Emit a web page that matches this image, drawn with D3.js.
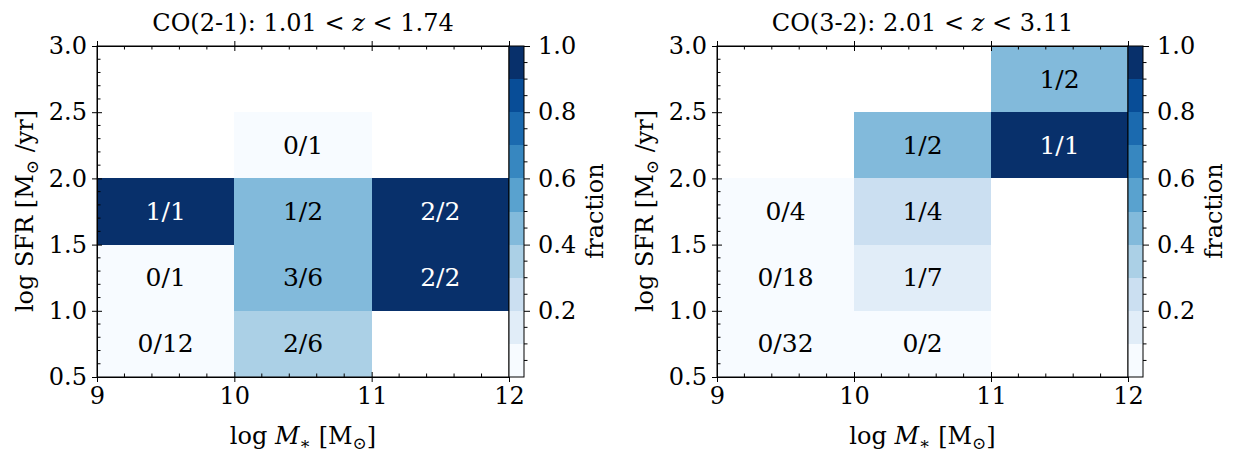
<!DOCTYPE html>
<html>
<head>
<meta charset="utf-8">
<script src="https://cdn.jsdelivr.net/npm/d3@7"></script>
<style>
  body { margin: 0; background: #fff; }
  svg text { font-family: "DejaVu Serif", serif; fill: #000; }
</style>
</head>
<body>
<svg id="chart" width="1242" height="463"></svg>
<script>
// bin edges
var massEdges = [9, 10, 11, 12];
var sfrEdges = [0.5, 1.0, 1.5, 2.0, 2.5, 3.0];
var massTicks = [9, 10, 11, 12];
var sfrTicks = [0.5, 1.0, 1.5, 2.0, 2.5, 3.0];
var fracTicks = [0.2, 0.4, 0.6, 0.8, 1.0];

// CO(2-1) cells: lower bin edges + detected / total
var co21Mass  = [9, 9, 9, 10, 10, 10, 10, 11, 11];
var co21Sfr   = [0.5, 1.0, 1.5, 0.5, 1.0, 1.5, 2.0, 1.0, 1.5];
var co21Det   = [0, 0, 1, 2, 3, 1, 0, 2, 2];
var co21Total = [12, 1, 1, 6, 6, 2, 1, 2, 2];

// CO(3-2) cells
var co32Mass  = [9, 9, 9, 10, 10, 10, 10, 11, 11];
var co32Sfr   = [0.5, 1.0, 1.5, 0.5, 1.0, 1.5, 2.0, 2.0, 2.5];
var co32Det   = [0, 0, 0, 0, 1, 1, 1, 1, 1];
var co32Total = [32, 18, 4, 2, 7, 4, 2, 1, 2];

// matplotlib "Blues" anchors, linear between them
var blues = d3.piecewise(d3.interpolateRgb, ["#f7fbff", "#deebf7", "#c6dbef", "#9ecae1",
  "#6baed6", "#4292c6", "#2171b5", "#08519c", "#08306b"]);
var nBins = 10;
function binOf(f) { return Math.max(0, Math.ceil(f * nBins - 1e-9) - 1); }
function binColor(b) { return blues(b / (nBins - 1)); }

var FS = 24;
var svg = d3.select("#chart");
svg.append("rect").attr("width", 1242).attr("height", 463).attr("fill", "#fff");

function drawPanel(opt) {
  var x = d3.scaleLinear().domain([9, 12]).range([opt.left, opt.right]);
  var y = d3.scaleLinear().domain([0.5, 3.0]).range([377, 46]);
  var g = svg.append("g");

  var cells = opt.mass.map(function (m, i) {
    return { m: m, s: opt.sfr[i], det: opt.det[i], tot: opt.total[i], f: opt.det[i] / opt.total[i] };
  });

  g.selectAll("rect.cell").data(cells).enter().append("rect")
    .attr("class", "cell")
    .attr("x", function (d) { return x(d.m); })
    .attr("y", function (d) { return y(d.s + 0.5); })
    .attr("width", function (d) { return x(d.m + 1) - x(d.m); })
    .attr("height", function (d) { return y(d.s) - y(d.s + 0.5); })
    .attr("shape-rendering", "crispEdges")
    .attr("fill", function (d) { return binColor(binOf(d.f)); });

  g.selectAll("text.cell").data(cells).enter().append("text")
    .attr("x", function (d) { return x(d.m + 0.5); })
    .attr("y", function (d) { return y(d.s + 0.25); })
    .attr("text-anchor", "middle")
    .attr("dominant-baseline", "central")
    .style("font-size", "25px")
    .style("fill", function (d) { return d.f > 0.7 ? "#fff" : "#000"; })
    .text(function (d) { return d.det + "/" + d.tot; });

  // axes: major ticks in/out, minor ticks inward
  var bottom = d3.axisBottom(x).tickValues(massTicks).tickFormat(d3.format("d")).tickSizeInner(5).tickSizeOuter(0).tickPadding(5);
  var gb = g.append("g").attr("transform", "translate(0,377)").call(bottom);
  gb.selectAll(".tick line").attr("y1", -5);
  var left = d3.axisLeft(y).tickValues(sfrTicks).tickFormat(d3.format(".1f")).tickSizeInner(5).tickSizeOuter(0).tickPadding(5);
  var gl = g.append("g").attr("transform", "translate(" + opt.left + ",0)").call(left);
  gl.selectAll(".tick line").attr("x1", 5);
  var top = d3.axisTop(x).tickValues(massTicks).tickFormat("").tickSizeInner(5).tickSizeOuter(0);
  var gt = g.append("g").attr("transform", "translate(0,46)").call(top);
  gt.selectAll(".tick line").attr("y1", 5);

  var xMinor = d3.range(9, 12.001, 0.2).filter(function (v) { return Math.abs(v - Math.round(v)) > 1e-6; });
  var yMinor = d3.range(0.5, 3.001, 0.1).filter(function (v) { return Math.abs(v * 2 - Math.round(v * 2)) > 1e-6; });
  g.selectAll("line.xminb").data(xMinor).enter().append("line")
    .attr("x1", x).attr("x2", x).attr("y1", 377).attr("y2", 373.5).attr("stroke", "#000");
  g.selectAll("line.xmint").data(xMinor).enter().append("line")
    .attr("x1", x).attr("x2", x).attr("y1", 46).attr("y2", 49.5).attr("stroke", "#000");
  g.selectAll("line.ymin").data(yMinor).enter().append("line")
    .attr("x1", opt.left).attr("x2", opt.left + 3.5).attr("y1", y).attr("y2", y).attr("stroke", "#000");

  g.selectAll(".domain").attr("stroke", "#000");
  g.selectAll(".tick text").style("font-size", FS + "px").attr("fill", "#000");
  g.append("rect").attr("x", opt.left).attr("y", 46)
    .attr("width", opt.right - opt.left).attr("height", 331)
    .attr("fill", "none").attr("stroke", "#000");

  // title
  var t = g.append("text").attr("x", (opt.left + opt.right) / 2).attr("y", 31)
    .attr("text-anchor", "middle").style("font-size", "24px");
  t.append("tspan").text(opt.title);
  t.append("tspan").text(opt.zlo + " < ");
  t.append("tspan").style("font-style", "italic").text("z");
  t.append("tspan").text(" < " + opt.zhi);

  // x label
  var xl = g.append("text").attr("x", (opt.left + opt.right) / 2).attr("y", 444)
    .attr("text-anchor", "middle").style("font-size", FS + "px");
  xl.append("tspan").text("log ");
  xl.append("tspan").style("font-style", "italic").text("M");
  xl.append("tspan").attr("dy", 5).style("font-size", "17px").text("∗");
  xl.append("tspan").attr("dy", -5).text(" [M");
  xl.append("tspan").attr("dy", 5).style("font-size", "17px").text("⊙");
  xl.append("tspan").attr("dy", -5).text("]");

  // y label
  var yl = g.append("text")
    .attr("transform", "translate(" + (opt.left - 64) + ",211) rotate(-90)")
    .attr("text-anchor", "middle").style("font-size", FS + "px");
  yl.append("tspan").text("log SFR [M");
  yl.append("tspan").attr("dy", 5).style("font-size", "17px").text("⊙");
  yl.append("tspan").attr("dy", -5).text(" /yr]");

  // colorbar
  var cx0 = opt.right, cx1 = opt.right + 15;
  var cy = d3.scaleLinear().domain([0, 1]).range([377, 46]);
  var bands = d3.range(nBins);
  g.selectAll("rect.band").data(bands).enter().append("rect")
    .attr("x", cx0).attr("width", cx1 - cx0)
    .attr("y", function (b) { return cy((b + 1) / nBins); })
    .attr("height", function (b) { return cy(b / nBins) - cy((b + 1) / nBins); })
    .attr("shape-rendering", "crispEdges")
    .attr("fill", function (b) { return binColor(b); });
  var cbAxis = d3.axisRight(cy).tickValues(fracTicks).tickFormat(d3.format(".1f")).tickSizeInner(6).tickSizeOuter(0).tickPadding(8);
  var gc = g.append("g").attr("transform", "translate(" + cx1 + ",0)").call(cbAxis);
  gc.select(".domain").remove();
  gc.selectAll(".tick text").style("font-size", FS + "px").attr("fill", "#000");
  var cMinor = d3.range(0.05, 1.0, 0.05).filter(function (v) { return Math.abs(v * 5 - Math.round(v * 5)) > 1e-6; });
  g.selectAll("line.cmin").data(cMinor).enter().append("line")
    .attr("x1", cx1).attr("x2", cx1 + 3.5).attr("y1", cy).attr("y2", cy).attr("stroke", "#000");
  g.append("rect").attr("x", cx0).attr("y", 46).attr("width", cx1 - cx0).attr("height", 331)
    .attr("fill", "none").attr("stroke", "#000");
  g.append("text")
    .attr("transform", "translate(" + (cx1 + 79) + ",211) rotate(-90)")
    .attr("text-anchor", "middle").style("font-size", FS + "px").text("fraction");
}

drawPanel({ left: 97, right: 509, title: "CO(2-1): ", zlo: "1.01", zhi: "1.74",
  mass: co21Mass, sfr: co21Sfr, det: co21Det, total: co21Total });
drawPanel({ left: 717, right: 1128, title: "CO(3-2): ", zlo: "2.01", zhi: "3.11",
  mass: co32Mass, sfr: co32Sfr, det: co32Det, total: co32Total });
</script>
</body>
</html>
